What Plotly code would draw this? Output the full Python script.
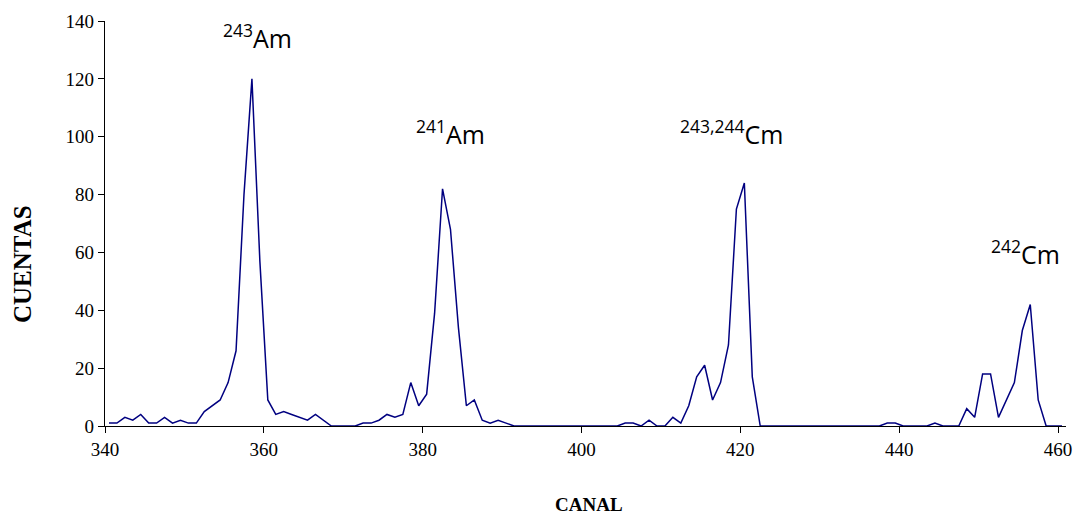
import plotly.graph_objects as go

# Channel numbers (one bin per channel) and counts
canal = list(range(340, 461))
cuentas = [
    1, 1, 3, 2, 4, 1, 1, 3, 1, 2,          # 340-349
    1, 1, 5, 7, 9, 15, 26, 80, 120, 57,    # 350-359
    9, 4, 5, 4, 3, 2, 4, 2, 0, 0,          # 360-369
    0, 0, 1, 1, 2, 4, 3, 4, 15, 7,         # 370-379
    11, 39, 82, 68, 34, 7, 9, 2, 1, 2,     # 380-389
    1, 0, 0, 0, 0, 0, 0, 0, 0, 0,          # 390-399
    0, 0, 0, 0, 0, 1, 1, 0, 2, 0,          # 400-409
    0, 3, 1, 7, 17, 21, 9, 15, 28, 75,     # 410-419
    84, 17, 0, 0, 0, 0, 0, 0, 0, 0,        # 420-429
    0, 0, 0, 0, 0, 0, 0, 0, 1, 1,          # 430-439
    0, 0, 0, 0, 1, 0, 0, 0, 6, 3,          # 440-449
    18, 18, 3, 9, 15, 33, 42, 9, 0, 0,     # 450-459
    0,                                     # 460
]

# Peak labels (isotope, channel of label centre, height of label)
etiquetas = ["<sup>243</sup>Am", "<sup>241</sup>Am", "<sup>243,244</sup>Cm", "<sup>242</sup>Cm"]
etiqueta_canal = [359.2, 383.5, 418.9, 455.9]
etiqueta_altura = [134.5, 101.5, 101.5, 60.0]

x_ticks = [340, 360, 380, 400, 420, 440, 460]
y_ticks = [0, 20, 40, 60, 80, 100, 120, 140]

# each count is plotted at the centre of its channel bin
x_centros = [c + 0.5 for c in canal]

fig = go.Figure()
fig.add_trace(go.Scatter(
    x=x_centros, y=cuentas, mode="lines",
    line=dict(color="#000080", width=1.5),
    hoverinfo="x+y", showlegend=False,
))

for txt, cx, cy in zip(etiquetas, etiqueta_canal, etiqueta_altura):
    fig.add_annotation(
        x=cx, y=cy, xref="x", yref="y", text=txt, showarrow=False,
        font=dict(family="Open Sans", size=25, color="#000000"),
        xanchor="center", yanchor="middle",
    )

tick_font = dict(family="Liberation Serif", size=19, color="#000000")

fig.update_xaxes(
    range=[340, 461], tickvals=x_ticks, ticktext=[str(v) for v in x_ticks],
    showline=True, linecolor="#000000", linewidth=1.3,
    ticks="outside", ticklen=6, tickcolor="#000000", tickwidth=1.3,
    showgrid=False, zeroline=False, tickfont=tick_font,
)
fig.update_yaxes(
    range=[0, 140], tickvals=y_ticks, ticktext=[str(v) for v in y_ticks],
    showline=True, linecolor="#000000", linewidth=1.3,
    ticks="outside", ticklen=6, tickcolor="#000000", tickwidth=1.3,
    showgrid=False, zeroline=False, tickfont=tick_font,
)

fig.add_annotation(
    text="<b>CANAL</b>", xref="paper", yref="paper", x=0.504, y=0,
    yshift=-78, showarrow=False,
    font=dict(family="Liberation Serif", size=19, color="#000000"),
    xanchor="center", yanchor="middle",
)
fig.add_annotation(
    text="<b>CUENTAS</b>", xref="paper", yref="paper", x=0, y=0.40,
    xshift=-83, showarrow=False,
    font=dict(family="Liberation Serif", size=25, color="#000000"),
    textangle=-90, xanchor="center", yanchor="middle",
)

fig.update_layout(
    width=1083, height=515,
    margin=dict(l=105, r=17, t=21, b=89),
    paper_bgcolor="#ffffff", plot_bgcolor="#ffffff",
    showlegend=False,
)

fig.write_html("out.html")
